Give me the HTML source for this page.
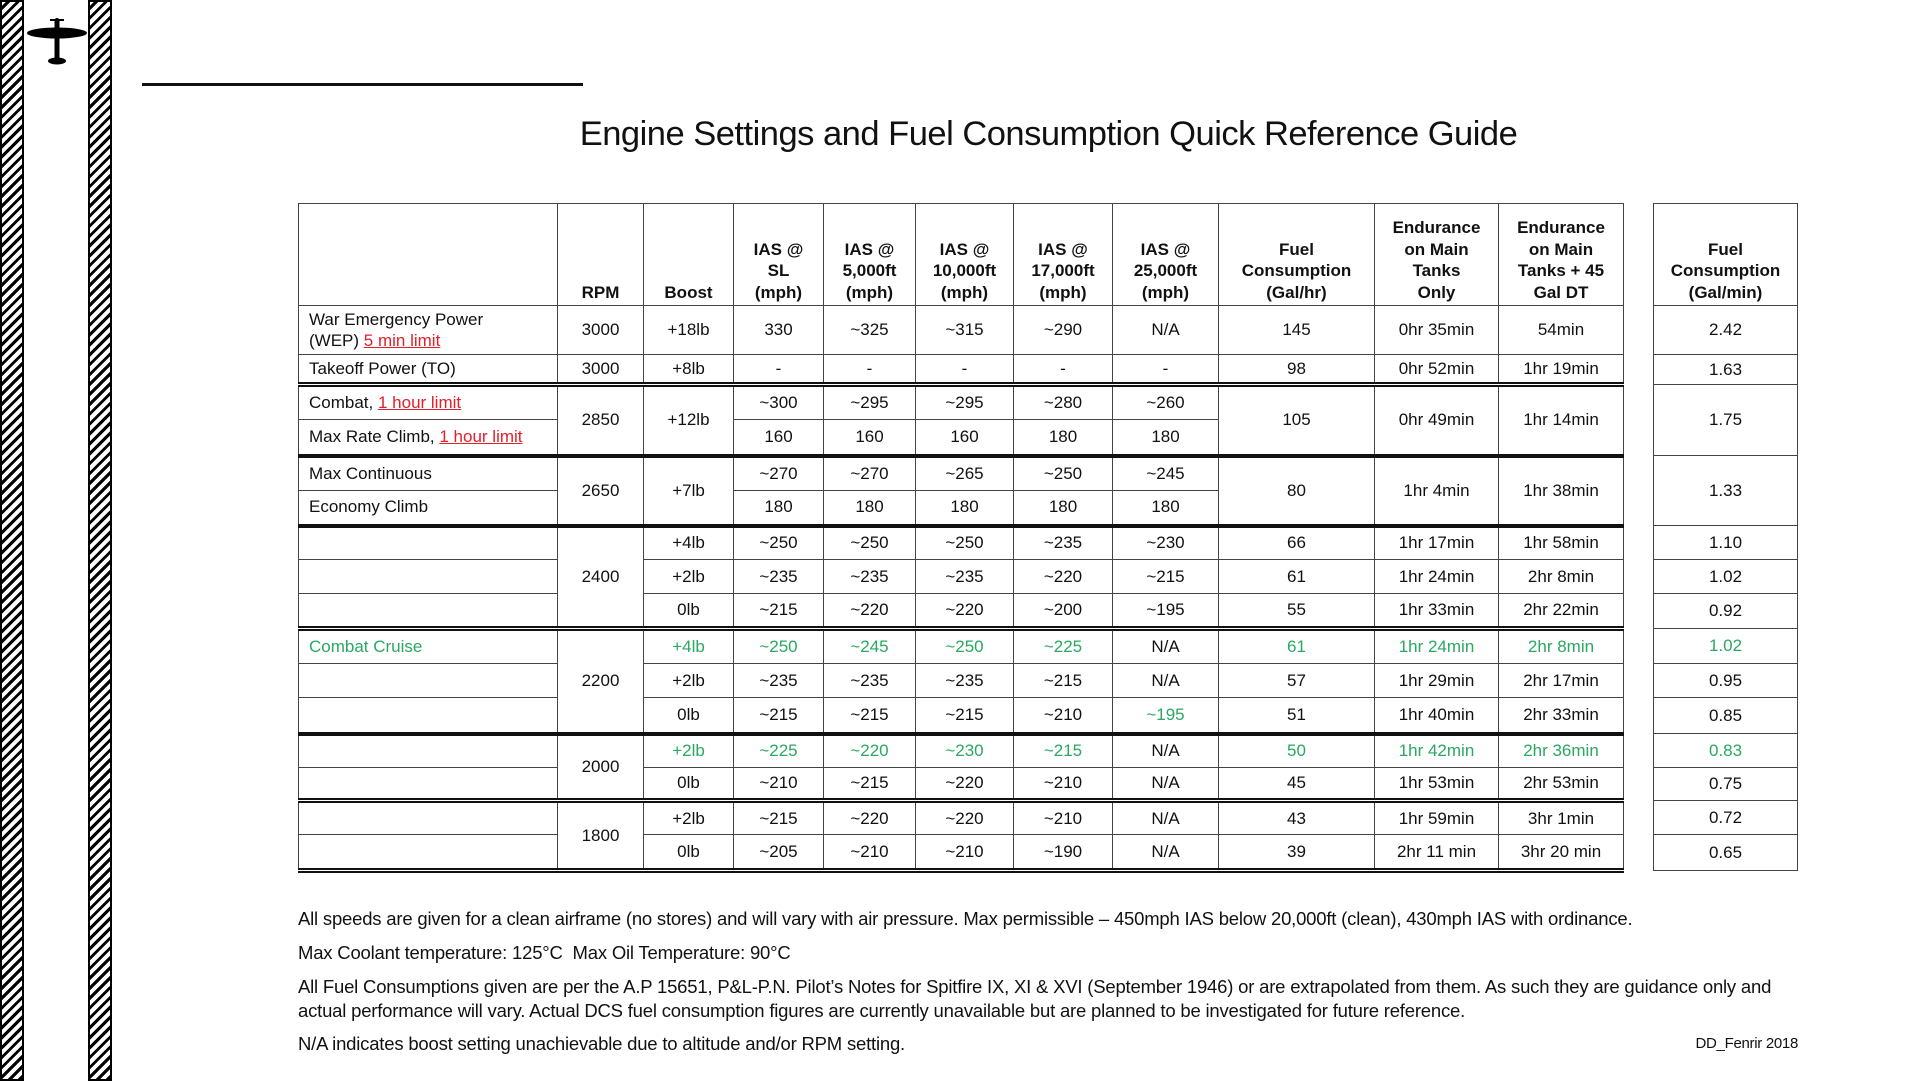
<!DOCTYPE html>
<html><head><meta charset="utf-8">
<style>
html,body{margin:0;padding:0;background:#fff;}
body{width:1921px;height:1081px;position:relative;overflow:hidden;font-family:"Liberation Sans",sans-serif;color:#111;}
.bar{position:absolute;top:0;height:1081px;box-sizing:border-box;border:2px solid #000;
 background:repeating-linear-gradient(-45deg,#000 0 3px,#fff 3px 7px);}
#title{position:absolute;left:0;width:2097px;top:115px;text-align:center;font-size:34.5px;letter-spacing:-0.5px;color:#111;}
table{border-collapse:collapse;table-layout:fixed;position:absolute;font-size:17px;}
td{border:1.5px solid #444;text-align:center;vertical-align:middle;padding:0;white-space:nowrap;}
thead td{font-weight:bold;vertical-align:bottom;line-height:21.5px;padding-bottom:2px;}
td.lbl{text-align:left;padding-left:10px;}
tr.dbl td{border-top:5px double #111;}
tr.thk td{border-top:4px solid #111;}
tr.dblb td, td.dblb{border-bottom:5px double #111;}
.g{color:#2aa862;}
.r{color:#e0202a;text-decoration:underline;}
.note{position:absolute;left:298px;font-size:18.5px;letter-spacing:-0.2px;line-height:24px;white-space:nowrap;}
</style></head><body>
<div class="bar" style="left:0;width:24px;"></div>
<div class="bar" style="left:88px;width:24px;"></div>
<svg style="position:absolute;left:24px;top:14px" width="64" height="54" viewBox="0 0 64 54">
 <ellipse cx="33" cy="19" rx="30" ry="5.5" fill="#000"/>
 <rect x="30.5" y="4" width="5" height="42" rx="2.5" fill="#000"/>
 <rect x="26" y="5" width="14" height="2" fill="#000"/>
 <ellipse cx="33" cy="47" rx="9" ry="3.5" fill="#000"/>
</svg>
<div style="position:absolute;left:142px;top:83px;width:441px;height:3px;background:#111"></div>
<div id="title">Engine Settings and Fuel Consumption Quick Reference Guide</div>

<table style="left:298px;top:203px;width:1325px;">
<colgroup><col style="width:259px"><col style="width:86px"><col style="width:90px"><col style="width:90px"><col style="width:92px"><col style="width:98px"><col style="width:99px"><col style="width:106px"><col style="width:156px"><col style="width:124px"><col style="width:125px"></colgroup>
<thead><tr style="height:102px">
<td></td><td>RPM</td><td>Boost</td><td>IAS @<br>SL<br>(mph)</td><td>IAS @<br>5,000ft<br>(mph)</td><td>IAS @<br>10,000ft<br>(mph)</td><td>IAS @<br>17,000ft<br>(mph)</td><td>IAS @<br>25,000ft<br>(mph)</td><td>Fuel<br>Consumption<br>(Gal/hr)</td><td>Endurance<br>on Main<br>Tanks<br>Only</td><td>Endurance<br>on Main<br>Tanks + 45<br>Gal DT</td></tr></thead>
<tbody>
<tr style="height:49px"><td class="lbl" style="line-height:21px">War Emergency Power<br>(WEP) <span class="r">5 min limit</span></td><td>3000</td><td>+18lb</td><td>330</td><td>~325</td><td>~315</td><td>~290</td><td>N/A</td><td>145</td><td>0hr 35min</td><td>54min</td></tr>
<tr style="height:30px"><td class="lbl">Takeoff Power (TO)</td><td>3000</td><td>+8lb</td><td>-</td><td>-</td><td>-</td><td>-</td><td>-</td><td>98</td><td>0hr 52min</td><td>1hr 19min</td></tr>
<tr class="dbl" style="height:35px"><td class="lbl">Combat, <span class="r">1 hour limit</span></td><td rowspan="2">2850</td><td rowspan="2">+12lb</td><td>~300</td><td>~295</td><td>~295</td><td>~280</td><td>~260</td><td rowspan="2">105</td><td rowspan="2">0hr 49min</td><td rowspan="2">1hr 14min</td></tr>
<tr style="height:36px"><td class="lbl">Max Rate Climb, <span class="r">1 hour limit</span></td><td>160</td><td>160</td><td>160</td><td>180</td><td>180</td></tr>
<tr class="thk" style="height:35px"><td class="lbl">Max Continuous</td><td rowspan="2">2650</td><td rowspan="2">+7lb</td><td>~270</td><td>~270</td><td>~265</td><td>~250</td><td>~245</td><td rowspan="2">80</td><td rowspan="2">1hr 4min</td><td rowspan="2">1hr 38min</td></tr>
<tr style="height:35px"><td class="lbl">Economy Climb</td><td>180</td><td>180</td><td>180</td><td>180</td><td>180</td></tr>
<tr class="thk" style="height:34px"><td></td><td rowspan="3">2400</td><td>+4lb</td><td>~250</td><td>~250</td><td>~250</td><td>~235</td><td>~230</td><td>66</td><td>1hr 17min</td><td>1hr 58min</td></tr>
<tr style="height:34px"><td></td><td>+2lb</td><td>~235</td><td>~235</td><td>~235</td><td>~220</td><td>~215</td><td>61</td><td>1hr 24min</td><td>2hr 8min</td></tr>
<tr style="height:35px"><td></td><td>0lb</td><td>~215</td><td>~220</td><td>~220</td><td>~200</td><td>~195</td><td>55</td><td>1hr 33min</td><td>2hr 22min</td></tr>
<tr class="dbl" style="height:35px"><td class="lbl g">Combat Cruise</td><td rowspan="3">2200</td><td class="g">+4lb</td><td class="g">~250</td><td class="g">~245</td><td class="g">~250</td><td class="g">~225</td><td>N/A</td><td class="g">61</td><td class="g">1hr 24min</td><td class="g">2hr 8min</td></tr>
<tr style="height:34px"><td></td><td>+2lb</td><td>~235</td><td>~235</td><td>~235</td><td>~215</td><td>N/A</td><td>57</td><td>1hr 29min</td><td>2hr 17min</td></tr>
<tr style="height:36px"><td></td><td>0lb</td><td>~215</td><td>~215</td><td>~215</td><td>~210</td><td class="g">~195</td><td>51</td><td>1hr 40min</td><td>2hr 33min</td></tr>
<tr class="thk" style="height:34px"><td></td><td rowspan="2">2000</td><td class="g">+2lb</td><td class="g">~225</td><td class="g">~220</td><td class="g">~230</td><td class="g">~215</td><td>N/A</td><td class="g">50</td><td class="g">1hr 42min</td><td class="g">2hr 36min</td></tr>
<tr style="height:33px"><td></td><td>0lb</td><td>~210</td><td>~215</td><td>~220</td><td>~210</td><td>N/A</td><td>45</td><td>1hr 53min</td><td>2hr 53min</td></tr>
<tr class="dbl" style="height:34px"><td></td><td rowspan="2" class="dblb">1800</td><td>+2lb</td><td>~215</td><td>~220</td><td>~220</td><td>~210</td><td>N/A</td><td>43</td><td>1hr 59min</td><td>3hr 1min</td></tr>
<tr class="dblb" style="height:36px"><td></td><td>0lb</td><td>~205</td><td>~210</td><td>~210</td><td>~190</td><td>N/A</td><td>39</td><td>2hr 11 min</td><td>3hr 20 min</td></tr>
</tbody></table>

<table style="left:1653px;top:203px;width:145px;">
<thead><tr style="height:102px"><td>Fuel<br>Consumption<br>(Gal/min)</td></tr></thead>
<tbody>
<tr style="height:49px"><td>2.42</td></tr>
<tr style="height:30px"><td>1.63</td></tr>
<tr style="height:71px"><td>1.75</td></tr>
<tr style="height:70px"><td>1.33</td></tr>
<tr style="height:34px"><td>1.10</td></tr>
<tr style="height:34px"><td>1.02</td></tr>
<tr style="height:35px"><td>0.92</td></tr>
<tr style="height:35px"><td class="g">1.02</td></tr>
<tr style="height:34px"><td>0.95</td></tr>
<tr style="height:36px"><td>0.85</td></tr>
<tr style="height:34px"><td class="g">0.83</td></tr>
<tr style="height:33px"><td>0.75</td></tr>
<tr style="height:34px"><td>0.72</td></tr>
<tr style="height:36px"><td>0.65</td></tr>
</tbody></table>

<div class="note" style="top:907px">All speeds are given for a clean airframe (no stores) and will vary with air pressure. Max permissible – 450mph IAS below 20,000ft (clean), 430mph IAS with ordinance.</div>
<div class="note" style="top:941px">Max Coolant temperature: 125°C&nbsp; Max Oil Temperature: 90°C</div>
<div class="note" style="top:975px">All Fuel Consumptions given are per the A.P 15651, P&amp;L-P.N. Pilot’s Notes for Spitfire IX, XI &amp; XVI (September 1946) or are extrapolated from them. As such they are guidance only and<br>actual performance will vary. Actual DCS fuel consumption figures are currently unavailable but are planned to be investigated for future reference.</div>
<div class="note" style="top:1032px">N/A indicates boost setting unachievable due to altitude and/or RPM setting.</div>
<div style="position:absolute;right:123px;top:1035px;font-size:15px;letter-spacing:-0.3px">DD_Fenrir 2018</div>
</body></html>
